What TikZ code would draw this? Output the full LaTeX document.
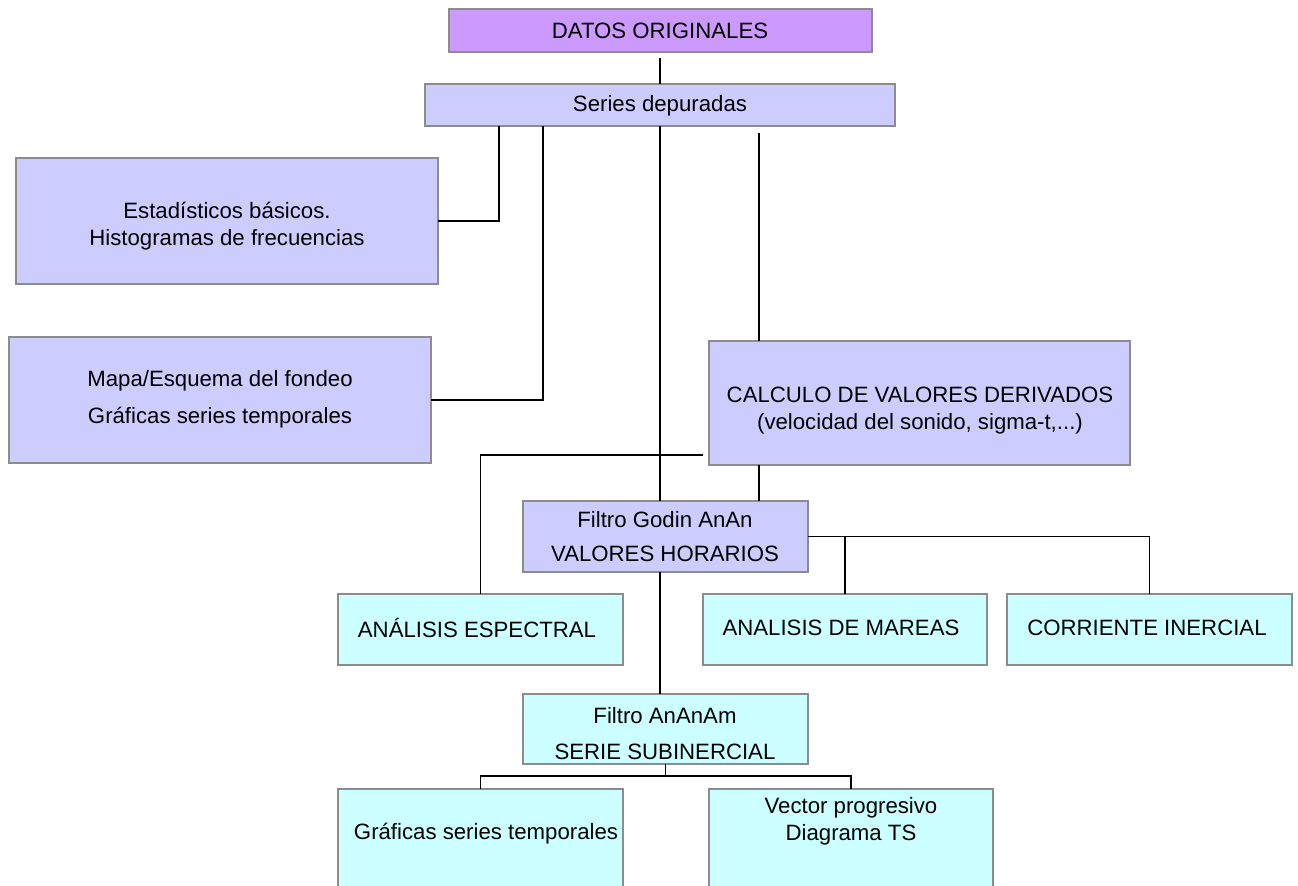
\documentclass[tikz,border=0pt]{standalone}
\usepackage{fontspec}
\setmainfont{Liberation Sans}
\definecolor{lav}{HTML}{CCCCFF}
\definecolor{cyanbox}{HTML}{CCFFFF}
\definecolor{purp}{HTML}{CC99FF}
\definecolor{bord}{HTML}{8C8C8C}
\begin{document}
\begin{tikzpicture}[x=0.5pt,y=-0.5pt,
  box/.style={draw=bord, line width=0.8pt, inner sep=0, outer sep=0},
  lbox/.style={box, fill=lav},
  cbox/.style={box, fill=cyanbox},
  pbox/.style={box, fill=purp},
  txt/.style={inner sep=0, align=center, font=\fontsize{11.1pt}{13.5pt}\selectfont},
  conn/.style={draw=black, line width=0.7pt}]
\useasboundingbox (0,0) rectangle (1298,886);
\clip (0,0) rectangle (1298,886);
% boxes
\node[pbox, minimum width=211.5pt, minimum height=21.5pt] (D) at (660.5,30.5) {};
\node[lbox, minimum width=235pt, minimum height=21pt] (S) at (660,105) {};
\node[lbox, minimum width=211pt, minimum height=63pt] (E) at (227,221) {};
\node[lbox, minimum width=211pt, minimum height=63pt] (M) at (220,400) {};
\node[lbox, minimum width=210.5pt, minimum height=62pt] (C) at (919.5,403) {};
\node[lbox, minimum width=142.5pt, minimum height=35.5pt] (G) at (665.5,536.5) {};
\node[cbox, minimum width=142.5pt, minimum height=35.5pt] (AE) at (480.5,629.5) {};
\node[cbox, minimum width=142pt, minimum height=35.5pt] (AM) at (845,629.5) {};
\node[cbox, minimum width=142.5pt, minimum height=35.5pt] (CI) at (1149.5,629.5) {};
\node[cbox, minimum width=142.5pt, minimum height=35pt] (F) at (665.5,729) {};
\node[cbox, minimum width=142.5pt, minimum height=53pt] (GS) at (480.5,842) {};
\node[cbox, minimum width=142pt, minimum height=53pt] (VP) at (851,842) {};
% texts
\node[txt] (Dt) at (660,31) {DATOS ORIGINALES};
\node[txt] (St) at (660,106) {Series depuradas};
\node[txt] (Et) at (227,226) {Estadísticos básicos.\\Histogramas de frecuencias};
\node[txt] (Mt) at (220,399) {Mapa/Esquema del fondeo\\[5pt]Gráficas series temporales};
\node[txt] (Ct) at (920,411) {CALCULO DE VALORES DERIVADOS\\(velocidad del sonido, sigma-t,...)};
\node[txt] (Gt) at (665,536.5) {Filtro Godin AnAn\\[3.5pt]VALORES HORARIOS};
\node[txt] (AEt) at (477,628) {ANÁLISIS ESPECTRAL};
\node[txt] (AMt) at (841,628) {ANALISIS DE MAREAS};
\node[txt] (CIt) at (1147,628) {CORRIENTE INERCIAL};
\node[txt] (Ft) at (665,734) {Filtro AnAnAm\\[4.5pt]SERIE SUBINERCIAL};
\node[txt] (GSt) at (486,834) {Gráficas series temporales};
\node[txt] (VPt) at (851,821) {Vector progresivo\\Diagrama TS};
% helper coordinates
\coordinate (c499) at (499,0);
\coordinate (c543) at (543,0);
\coordinate (c5) at (759,133);
\coordinate (c7) at (703,455);
\coordinate (c10) at (0,776);
% connectors
\draw[conn] ([yshift=-3pt]D.south -| S.north) -- (S.north);
\draw[conn] (S.south -| c499) |- (E.east);
\draw[conn] (S.south -| c543) |- (M.east);
\draw[conn] (S.south) -- (S.south |- G.north);
\draw[conn] (c5) -- (c5 |- C.north);
\draw[conn] (C.south -| c5) -- (G.north -| c5);
\draw[conn] (c7) -| (AE.north);
\draw[conn] (G.east) -| (CI.north);
\draw[conn] (G.east -| AM.north) -- (AM.north);
\draw[conn] (G.south -| S.south) -- (F.north -| S.south);
\draw[conn] (F.south) -- (F.south |- c10);
\draw[conn] (GS.north) |- (VP.north |- c10) -- (VP.north);
\end{tikzpicture}
\end{document}
